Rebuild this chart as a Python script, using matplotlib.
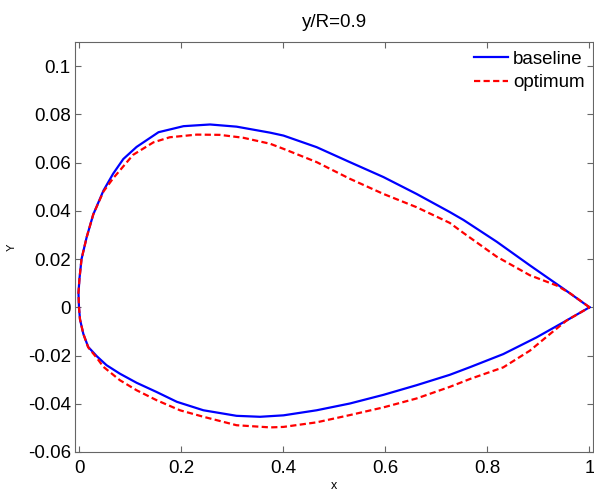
import numpy as np
import matplotlib
matplotlib.use("Agg")
import matplotlib.pyplot as plt

### airfoil section data, upper and lower surfaces LE -> TE
base_up_x = [-0.001, -0.002, 0.000, 0.004, 0.014, 0.027, 0.047, 0.066, 0.086, 0.112, 0.155, 0.204,
             0.256, 0.308, 0.374, 0.400, 0.465, 0.530, 0.596, 0.661, 0.726, 0.753, 0.818, 0.883, 0.949, 1.000]
base_up_y = [0.000, 0.006, 0.012, 0.020, 0.029, 0.0385, 0.0484, 0.0554, 0.0615, 0.0665, 0.0726, 0.0751,
             0.0758, 0.0749, 0.0724, 0.0712, 0.0664, 0.0602, 0.0540, 0.0470, 0.0395, 0.0362, 0.0272, 0.0174, 0.0077, 0.000]
base_lo_x = [-0.001, 0.001, 0.0075, 0.017, 0.034, 0.053, 0.079, 0.112, 0.151, 0.191, 0.243, 0.308,
             0.354, 0.400, 0.465, 0.530, 0.596, 0.661, 0.726, 0.766, 0.831, 0.896, 0.949, 1.000]
base_lo_y = [0.000, -0.005, -0.011, -0.0164, -0.0203, -0.024, -0.0275, -0.0313, -0.0351, -0.0392, -0.0427, -0.0450,
             -0.0454, -0.0448, -0.0427, -0.0399, -0.0363, -0.0323, -0.0280, -0.0248, -0.0194, -0.0125, -0.0062, 0.000]

opt_up_x = [-0.001, -0.002, 0.000, 0.004, 0.014, 0.027, 0.047, 0.066, 0.079, 0.105, 0.145, 0.177, 0.230,
            0.275, 0.321, 0.374, 0.400, 0.465, 0.530, 0.596, 0.661, 0.726, 0.753, 0.818, 0.883, 0.936, 0.962, 1.000]
opt_up_y = [0.000, 0.006, 0.012, 0.020, 0.029, 0.0385, 0.0480, 0.0535, 0.0567, 0.0632, 0.0684, 0.0705, 0.0716,
            0.0715, 0.0703, 0.0678, 0.0657, 0.0602, 0.0533, 0.0470, 0.0415, 0.0350, 0.0308, 0.0210, 0.0133, 0.0090, 0.0058, 0.000]
opt_lo_x = [-0.001, 0.001, 0.0075, 0.017, 0.034, 0.047, 0.079, 0.112, 0.151, 0.197, 0.243, 0.308, 0.374,
            0.400, 0.465, 0.530, 0.596, 0.661, 0.726, 0.766, 0.831, 0.883, 0.923, 0.955, 1.000]
opt_lo_y = [0.000, -0.005, -0.011, -0.0166, -0.021, -0.0247, -0.0302, -0.0344, -0.0385, -0.0427, -0.0454, -0.0489, -0.0498,
            -0.0496, -0.0477, -0.0447, -0.0415, -0.0378, -0.0330, -0.0297, -0.0249, -0.0180, -0.0110, -0.0055, 0.000]

x_ticks = [0, 0.2, 0.4, 0.6, 0.8, 1]
x_labels = ['0', '0.2', '0.4', '0.6', '0.8', '1']
y_ticks = [-0.06, -0.04, -0.02, 0, 0.02, 0.04, 0.06, 0.08, 0.1]
y_labels = ['-0.06', '-0.04', '-0.02', '0', '0.02', '0.04', '0.06', '0.08', '0.1']

plt.rcParams['font.family'] = ['Liberation Sans', 'DejaVu Sans']

fig = plt.figure(figsize=(5.94, 4.91), dpi=100)
ax = fig.add_axes([75/594, 39/491, 518/594, 410/491])

# closed loop: TE -> upper -> LE -> lower -> TE
bx = base_up_x[::-1] + base_lo_x[1:]
by = base_up_y[::-1] + base_lo_y[1:]
ox = opt_up_x[::-1] + opt_lo_x[1:]
oy = opt_up_y[::-1] + opt_lo_y[1:]

ax.plot(bx, by, color='#0000ff', lw=1.6, solid_joinstyle='round', label='baseline')
ax.plot(ox, oy, color='#ff0000', lw=1.6, linestyle=(0, (2.8, 1.5)), label='optimum')

ax.set_xlim(-0.0088, 1.0069)
ax.set_ylim(-0.06, 0.11)
ax.set_xticks(x_ticks)
ax.set_xticklabels(x_labels)
ax.set_yticks(y_ticks)
ax.set_yticklabels(y_labels)
ax.tick_params(direction='in', length=4, width=0.8, color='0.4', labelsize=13.5,
               top=True, right=True)
ax.tick_params(axis='x', pad=6)
ax.tick_params(axis='y', pad=3)
for s in ax.spines.values():
    s.set_color('0.4')
    s.set_linewidth(0.8)

ax.set_title('y/R=0.9', fontsize=13.5, pad=11)
ax.set_xlabel('x', fontsize=9, labelpad=2)
ax.set_ylabel('Y', fontsize=8, labelpad=8)

ax.legend(loc='upper right', frameon=False, fontsize=13.5, handlelength=1.85,
          handletextpad=0.25, labelspacing=0.35, borderaxespad=0.05)

plt.savefig('out.png', dpi=100)
